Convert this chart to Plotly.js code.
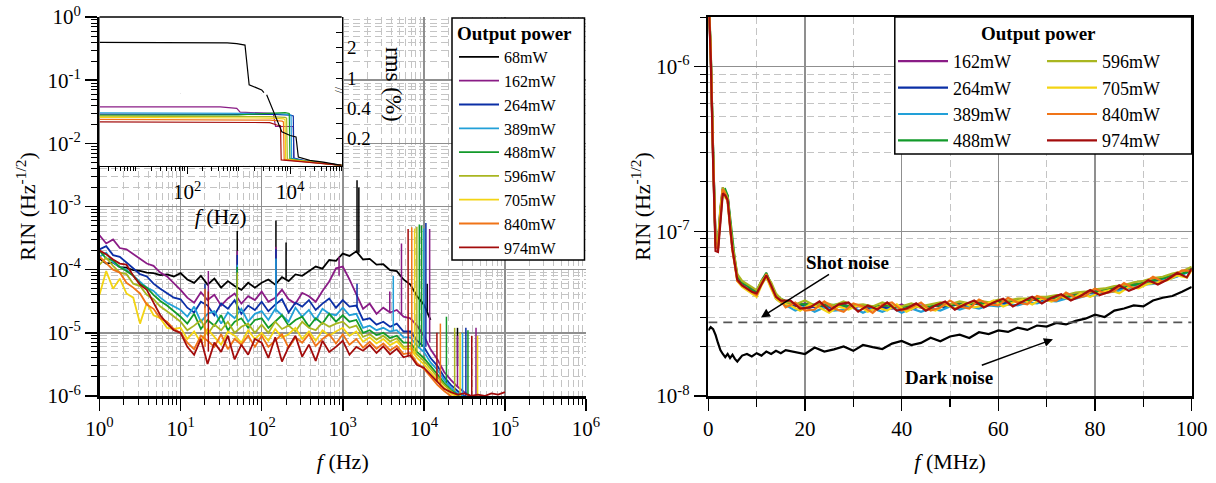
<!DOCTYPE html>
<html><head><meta charset="utf-8">
<script src="https://cdn.plot.ly/plotly-3.0.1.min.js"></script>
<style>html,body{margin:0;padding:0;background:#fff}</style>
</head><body><div id="chart" style="width:1216px;height:483px"></div>
<script>
// ---------------- DATA ----------------
const powerNames = ['68mW','162mW','264mW','389mW','488mW','596mW','705mW','840mW','974mW'];

// Left panel: RIN vs frequency (Hz)
const freqLeft = [1,1.21,1.47,1.78,2.15,2.61,3.16,3.83,4.64,5.62,6.81,8.25,
 10,12.1,14.7,17.8,21.5,26.1,31.6,38.3,46.4,56.2,68.1,82.5,
 100,121,147,178,215,261,316,383,464,562,681,825,
 1000,1210,1470,1780,2150,2610,3160,3830,4640,5620,6810,8250,
 1e4,1.21e4,1.47e4,1.78e4,2.15e4,2.61e4,3.16e4,3.83e4,4.64e4,5.62e4,6.81e4,8.25e4,1e5];

const rin68 = [150e-6,125e-6,130e-6,110e-6,108e-6,98e-6,96e-6,90e-6,88e-6,82e-6,84e-6,78e-6,
 88e-6,70e-6,62e-6,80e-6,58e-6,72e-6,52e-6,66e-6,55e-6,48e-6,62e-6,52e-6,
 62e-6,70e-6,58e-6,76e-6,66e-6,84e-6,80e-6,96e-6,112e-6,104e-6,142e-6,138e-6,
 180e-6,165e-6,195e-6,145e-6,148e-6,120e-6,122e-6,98e-6,95e-6,70e-6,58e-6,38e-6,
 28e-6,16e-6];
const rin162 = [350e-6,260e-6,300e-6,220e-6,210e-6,175e-6,150e-6,125e-6,115e-6,90e-6,78e-6,62e-6,
 48e-6,36e-6,30e-6,44e-6,33e-6,40e-6,27e-6,35e-6,42e-6,29e-6,38e-6,33e-6,
 45e-6,31e-6,36e-6,48e-6,34e-6,29e-6,43e-6,38e-6,31e-6,46e-6,65e-6,105e-6,
 112e-6,70e-6,40e-6,24e-6,29e-6,20e-6,25e-6,21e-6,23e-6,18e-6,17e-6,13e-6,
 9e-6,5.5e-6,3.8e-6,2.4e-6,1.8e-6,1.4e-6,1.15e-6,1.0e-6,0.9e-6];
const rin264 = [210e-6,235e-6,170e-6,160e-6,130e-6,105e-6,85e-6,78e-6,60e-6,50e-6,42e-6,36e-6,
 34e-6,25e-6,21e-6,31e-6,27e-6,19e-6,29e-6,24e-6,33e-6,20e-6,27e-6,23e-6,
 31e-6,22e-6,28e-6,34e-6,21e-6,30e-6,26e-6,33e-6,23e-6,29e-6,35e-6,25e-6,
 33e-6,26e-6,27e-6,16e-6,17e-6,13.5e-6,15e-6,12.5e-6,14e-6,10.5e-6,10.5e-6,7.5e-6,
 6e-6,4e-6,3e-6,2e-6,1.5e-6,1.2e-6,1.0e-6,0.9e-6,0.8e-6];
const rin389 = [160e-6,185e-6,130e-6,110e-6,100e-6,80e-6,65e-6,52e-6,46e-6,36e-6,30e-6,26e-6,
 23e-6,18e-6,26e-6,15e-6,20e-6,22e-6,14e-6,21e-6,17e-6,24e-6,15e-6,20e-6,
 22e-6,16e-6,24e-6,19e-6,15e-6,25e-6,18e-6,23e-6,16e-6,24e-6,20e-6,19e-6,
 25e-6,19e-6,20e-6,12e-6,13e-6,11e-6,12e-6,10.5e-6,11e-6,8.5e-6,8.5e-6,6.2e-6,
 5e-6,3.4e-6,2.6e-6,1.8e-6,1.35e-6,1.1e-6,0.95e-6,0.85e-6,0.8e-6];
const rin488 = [200e-6,150e-6,140e-6,110e-6,95e-6,80e-6,60e-6,52e-6,40e-6,32e-6,27e-6,22e-6,
 18e-6,14e-6,20e-6,11.5e-6,16e-6,13e-6,19e-6,11e-6,15e-6,17e-6,12e-6,16e-6,
 17e-6,12e-6,15e-6,19e-6,13e-6,16e-6,18e-6,12.5e-6,17e-6,14e-6,20e-6,15e-6,
 19e-6,15e-6,16e-6,10e-6,11e-6,9.2e-6,10e-6,8.3e-6,9e-6,7e-6,7e-6,5e-6,
 4e-6,3e-6,2.2e-6,1.6e-6,1.25e-6,1.05e-6,0.9e-6,0.82e-6,0.78e-6];
const rin596 = [120e-6,155e-6,115e-6,90e-6,85e-6,60e-6,55e-6,40e-6,34e-6,26e-6,22e-6,18e-6,
 15e-6,11e-6,13e-6,16e-6,9.5e-6,13.5e-6,11e-6,15e-6,10e-6,12.5e-6,14e-6,10e-6,
 13.5e-6,10e-6,15e-6,11.5e-6,13e-6,10.5e-6,15e-6,12e-6,11e-6,14.5e-6,12.5e-6,14e-6,
 15e-6,12e-6,13e-6,8.6e-6,9.6e-6,7.8e-6,9e-6,7.3e-6,8.2e-6,6e-6,6.2e-6,4.5e-6,
 3.6e-6,2.7e-6,2e-6,1.5e-6,1.2e-6,1.0e-6,0.88e-6,0.8e-6,0.75e-6];
const rin705 = [40e-6,95e-6,50e-6,72e-6,42e-6,36e-6,14e-6,30e-6,19e-6,17e-6,12e-6,11.5e-6,
 12e-6,8e-6,10.5e-6,7e-6,11.5e-6,8.5e-6,6.5e-6,10.5e-6,9e-6,7e-6,11e-6,8e-6,
 10e-6,7.5e-6,11.5e-6,8.5e-6,9.5e-6,12e-6,8e-6,10.5e-6,7.5e-6,11e-6,9e-6,10.5e-6,
 12e-6,9e-6,10.5e-6,7.2e-6,8.5e-6,6.8e-6,8e-6,6.4e-6,7.3e-6,5.6e-6,5.6e-6,4e-6,
 3.2e-6,2.4e-6,1.8e-6,1.35e-6,1.1e-6,0.95e-6,0.85e-6,0.78e-6,0.72e-6];
const rin840 = [160e-6,125e-6,100e-6,90e-6,62e-6,52e-6,42e-6,28e-6,24e-6,17e-6,15e-6,11.5e-6,
 10e-6,7e-6,5.5e-6,9e-6,7.5e-6,6e-6,9.5e-6,5.5e-6,8e-6,6.5e-6,9e-6,6e-6,
 9e-6,6e-6,7.5e-6,9.5e-6,5.8e-6,8.5e-6,7e-6,9.5e-6,6.2e-6,8e-6,9.5e-6,6.8e-6,
 9.5e-6,6.5e-6,8e-6,5.8e-6,7.2e-6,5.6e-6,6.8e-6,5.3e-6,6.2e-6,4.6e-6,4.8e-6,3.3e-6,
 2.7e-6,2e-6,1.5e-6,1.2e-6,1.0e-6,0.9e-6,0.8e-6,0.75e-6,0.7e-6];
const rin974 = [200e-6,175e-6,145e-6,125e-6,120e-6,80e-6,58e-6,48e-6,30e-6,19e-6,14e-6,11e-6,
 10e-6,6e-6,4.5e-6,8e-6,3.2e-6,7e-6,5e-6,9e-6,3.8e-6,6.5e-6,4.5e-6,8e-6,
 7e-6,4e-6,8.5e-6,3.5e-6,6e-6,9e-6,4.2e-6,6.5e-6,3.6e-6,7.5e-6,5e-6,6e-6,
 7.5e-6,4.5e-6,6e-6,5.2e-6,6.4e-6,4.8e-6,6.1e-6,4.6e-6,5.6e-6,4.1e-6,4.4e-6,3.1e-6,
 2.8e-6,2.2e-6,1.7e-6,1.3e-6,1.15e-6,1.05e-6,1.1e-6,1.0e-6,1.05e-6,1.0e-6,1.1e-6,1.05e-6,
 1.15e-6];

// Narrow spectral lines: [frequency, RIN at foot, RIN at peak]
const spikes68  = [[50,55e-6,410e-6],[150,62e-6,600e-6],[200,72e-6,270e-6],[1500,190e-6,2600e-6],[1580,185e-6,2000e-6],[1.1e4,22e-6,60e-6],[2.6e4,3e-6,12e-6]];
const spikes162 = [[22,33e-6,95e-6],[50,37e-6,200e-6],[150,40e-6,230e-6],[900,80e-6,160e-6],[3800,21e-6,45e-6],[5300,19e-6,260e-6],[1.18e4,7e-6,440e-6],[2.6e4,1.4e-6,9e-6],[4.4e4,0.9e-6,12e-6]];
const spikes264 = [[20,25e-6,60e-6],[50,26e-6,170e-6],[150,28e-6,210e-6],[1500,25e-6,60e-6],[1.06e4,6e-6,550e-6],[3.3e4,1e-6,12e-6]];
const spikes389 = [[50,20e-6,120e-6],[150,21e-6,150e-6],[4200,11e-6,80e-6],[1.0e4,5e-6,450e-6],[3.0e4,1e-6,10e-6]];
const spikes488 = [[50,16e-6,110e-6],[8800,6e-6,520e-6],[9400,6e-6,500e-6],[1.9e4,1.6e-6,18e-6],[3.5e4,0.9e-6,11e-6]];
const spikes596 = [[50,13e-6,90e-6],[8200,5e-6,480e-6],[2.4e4,1.2e-6,12e-6]];
const spikes705 = [[7700,4.5e-6,450e-6],[2.8e4,1e-6,10e-6],[4.6e4,0.8e-6,9e-6]];
const spikes840 = [[20,6e-6,50e-6],[7100,4.5e-6,470e-6],[1.6e4,1.4e-6,14e-6]];
const spikes974 = [[22,5e-6,45e-6],[6400,4.3e-6,440e-6],[1.45e4,1.7e-6,10e-6],[3.9e4,1.0e-6,9e-6]];

// Inset: integrated rms (%) vs frequency (Hz)
const rms68UpperF = [2,100,600,920,1330,1600,2800,3100];
const rms68Upper  = [2.17,2.17,2.15,2.13,2.08,0.78,0.61,0.52];
const rms68LowerF = [3500,5900,6900,1e4,1.3e4,1.44e4,2.4e4,4.4e4,1e5];
const rms68Lower  = [0.49,0.30,0.244,0.22,0.21,0.078,0.055,0.044,0.022];
const rms162F = [2,440,920,1070,4700,5200,11500,11800,20000,50000,100000];
const rms162  = [0.41,0.41,0.40,0.375,0.367,0.28,0.28,0.065,0.05,0.035,0.022];
const rms264F = [2,1000,5000,10000,11500,11800,20000,50000,100000];
const rms264  = [0.362,0.362,0.36,0.355,0.35,0.07,0.052,0.035,0.022];
const rms389F = [2,1000,5000,9000,10400,10700,20000,50000,100000];
const rms389  = [0.371,0.37,0.366,0.36,0.355,0.068,0.05,0.034,0.022];
const rms488F = [2,1000,3000,8000,9600,9900,20000,50000,100000];
const rms488  = [0.355,0.357,0.365,0.372,0.366,0.066,0.05,0.034,0.022];
const rms596F = [2,1000,4000,8000,8550,8800,20000,50000,100000];
const rms596  = [0.349,0.348,0.345,0.34,0.335,0.064,0.049,0.033,0.022];
const rms705F = [2,1000,4000,7500,7950,8200,20000,50000,100000];
const rms705  = [0.34,0.339,0.336,0.33,0.325,0.062,0.048,0.033,0.022];
const rms840F = [2,1000,4000,7000,7400,7650,20000,50000,100000];
const rms840  = [0.327,0.326,0.322,0.315,0.31,0.06,0.047,0.032,0.022];
const rms974F = [2,1000,4000,5500,6500,6700,20000,50000,100000];
const rms974  = [0.311,0.31,0.306,0.29,0.285,0.058,0.046,0.032,0.022];

// Right panel: RIN vs frequency (MHz); two sampling grids (even / odd MHz above 15 MHz)
const freqRightA = [0,0.5,1,1.5,2,2.5,3,3.5,4,4.5,5,5.5,6,7,8,9,10,11,12,13,14,15,
 16,18,20,22,24,26,28,30,32,34,36,38,40,42,44,46,48,50,52,54,56,58,60,
 62,64,66,68,70,72,74,76,78,80,82,84,86,88,90,92,94,96,98,100];
const freqRightB = [0,0.5,1,1.5,2,2.5,3,3.5,4,4.5,5,5.5,6,7,8,9,10,11,12,13,14,15,
 17,19,21,23,25,27,29,31,33,35,37,39,41,43,45,47,49,51,53,55,57,59,61,
 63,65,67,69,71,73,75,77,79,81,83,85,87,89,91,93,95,97,99,100];
const rinR162 = [300e-8,125e-8,30e-8,8.8e-8,8.3e-8,13.5e-8,18.5e-8,17e-8,16.5e-8,11.5e-8,8.2e-8,6.6e-8,5.3e-8,4.9e-8,4.7e-8,4.5e-8,4.3e-8,5.0e-8,5.5e-8,4.8e-8,4.1e-8,3.8e-8,
 3.7e-8,3.5e-8,3.65e-8,3.45e-8,3.6e-8,3.4e-8,3.6e-8,3.45e-8,3.55e-8,3.35e-8,3.5e-8,3.4e-8,3.6e-8,3.35e-8,3.55e-8,3.45e-8,3.65e-8,3.5e-8,3.65e-8,3.55e-8,3.7e-8,3.6e-8,3.8e-8,
 3.65e-8,3.85e-8,3.75e-8,3.95e-8,3.8e-8,4.05e-8,3.95e-8,4.2e-8,4.1e-8,4.4e-8,4.3e-8,4.6e-8,4.5e-8,4.85e-8,4.7e-8,5.1e-8,5.0e-8,5.5e-8,5.45e-8,6.0e-8];
const rinR264 = [290e-8,118e-8,29e-8,8.4e-8,8.0e-8,13e-8,18e-8,17.5e-8,16e-8,11e-8,8e-8,6.4e-8,5.2e-8,4.8e-8,4.5e-8,4.3e-8,4.2e-8,4.9e-8,5.4e-8,4.6e-8,4.0e-8,3.7e-8,
 3.5e-8,3.6e-8,3.45e-8,3.55e-8,3.4e-8,3.55e-8,3.4e-8,3.55e-8,3.35e-8,3.5e-8,3.4e-8,3.5e-8,3.35e-8,3.5e-8,3.4e-8,3.55e-8,3.45e-8,3.6e-8,3.5e-8,3.65e-8,3.55e-8,3.7e-8,3.65e-8,
 3.75e-8,3.7e-8,3.85e-8,3.8e-8,3.95e-8,3.9e-8,4.05e-8,4.05e-8,4.25e-8,4.25e-8,4.45e-8,4.45e-8,4.65e-8,4.7e-8,4.95e-8,5.0e-8,5.25e-8,5.35e-8,5.65e-8,5.85e-8];
const rinR389 = [310e-8,122e-8,27e-8,8.2e-8,8.1e-8,12.5e-8,17.5e-8,16.5e-8,15.5e-8,11e-8,7.8e-8,6.4e-8,5.1e-8,4.7e-8,4.5e-8,4.4e-8,4.1e-8,4.8e-8,5.3e-8,4.6e-8,3.9e-8,3.7e-8,
 3.55e-8,3.3e-8,3.5e-8,3.25e-8,3.45e-8,3.3e-8,3.35e-8,3.45e-8,3.2e-8,3.4e-8,3.25e-8,3.45e-8,3.2e-8,3.4e-8,3.25e-8,3.4e-8,3.3e-8,3.5e-8,3.35e-8,3.5e-8,3.4e-8,3.55e-8,3.5e-8,
 3.6e-8,3.55e-8,3.7e-8,3.65e-8,3.8e-8,3.75e-8,3.9e-8,3.9e-8,4.05e-8,4.1e-8,4.25e-8,4.3e-8,4.45e-8,4.6e-8,4.75e-8,4.8e-8,5.05e-8,5.2e-8,5.45e-8,5.8e-8];
const rinR488 = [305e-8,125e-8,31e-8,8.6e-8,8.4e-8,13.5e-8,17.5e-8,18e-8,16.5e-8,12e-8,8.4e-8,6.7e-8,5.4e-8,4.9e-8,4.7e-8,4.4e-8,4.3e-8,5.0e-8,5.6e-8,4.8e-8,4.1e-8,3.9e-8,
 3.65e-8,3.6e-8,3.6e-8,3.55e-8,3.55e-8,3.6e-8,3.5e-8,3.55e-8,3.5e-8,3.5e-8,3.55e-8,3.45e-8,3.5e-8,3.5e-8,3.45e-8,3.55e-8,3.55e-8,3.6e-8,3.6e-8,3.65e-8,3.65e-8,3.7e-8,3.75e-8,
 3.8e-8,3.8e-8,3.85e-8,3.9e-8,3.95e-8,4.0e-8,4.05e-8,4.15e-8,4.25e-8,4.35e-8,4.45e-8,4.55e-8,4.65e-8,4.8e-8,4.95e-8,5.1e-8,5.25e-8,5.45e-8,5.65e-8,6.0e-8];
const rinR596 = [320e-8,130e-8,30e-8,8.9e-8,8.6e-8,14e-8,18.5e-8,17e-8,16e-8,11.5e-8,8.3e-8,6.8e-8,5.5e-8,5.0e-8,4.8e-8,4.6e-8,4.4e-8,5.0e-8,5.4e-8,4.9e-8,4.2e-8,3.9e-8,
 3.75e-8,3.6e-8,3.8e-8,3.55e-8,3.7e-8,3.55e-8,3.75e-8,3.55e-8,3.6e-8,3.5e-8,3.7e-8,3.55e-8,3.5e-8,3.65e-8,3.5e-8,3.6e-8,3.7e-8,3.6e-8,3.75e-8,3.65e-8,3.8e-8,3.7e-8,3.85e-8,
 3.8e-8,3.9e-8,3.9e-8,4.0e-8,4.0e-8,4.1e-8,4.1e-8,4.25e-8,4.3e-8,4.45e-8,4.5e-8,4.65e-8,4.7e-8,4.9e-8,5.0e-8,5.2e-8,5.3e-8,5.55e-8,5.7e-8,6.1e-8];
const rinR705 = [300e-8,120e-8,28e-8,8.3e-8,7.8e-8,13e-8,18e-8,16e-8,15.5e-8,10.5e-8,7.8e-8,6.3e-8,5.0e-8,4.6e-8,4.4e-8,4.2e-8,4.0e-8,4.7e-8,5.3e-8,4.5e-8,3.9e-8,3.7e-8,
 3.55e-8,3.3e-8,3.6e-8,3.45e-8,3.2e-8,3.5e-8,3.35e-8,3.55e-8,3.25e-8,3.45e-8,3.3e-8,3.6e-8,3.25e-8,3.5e-8,3.4e-8,3.3e-8,3.6e-8,3.4e-8,3.65e-8,3.45e-8,3.55e-8,3.8e-8,3.5e-8,
 3.7e-8,3.85e-8,3.6e-8,3.9e-8,3.75e-8,4.0e-8,3.85e-8,4.2e-8,4.0e-8,4.25e-8,4.4e-8,4.2e-8,4.6e-8,4.5e-8,4.8e-8,4.9e-8,5.05e-8,5.4e-8,5.25e-8,5.8e-8];
const rinR840 = [295e-8,118e-8,27e-8,8.0e-8,7.9e-8,12.5e-8,18e-8,17e-8,15e-8,10.5e-8,7.6e-8,6.2e-8,5.0e-8,4.7e-8,4.5e-8,4.3e-8,4.1e-8,4.8e-8,5.5e-8,4.6e-8,4.0e-8,3.8e-8,
 3.45e-8,3.7e-8,3.3e-8,3.35e-8,3.75e-8,3.4e-8,3.25e-8,3.65e-8,3.5e-8,3.2e-8,3.6e-8,3.7e-8,3.3e-8,3.45e-8,3.7e-8,3.3e-8,3.45e-8,3.8e-8,3.5e-8,3.4e-8,3.85e-8,3.6e-8,3.55e-8,
 3.95e-8,3.7e-8,3.6e-8,4.05e-8,3.85e-8,3.8e-8,4.25e-8,3.95e-8,4.05e-8,4.5e-8,4.2e-8,4.35e-8,4.85e-8,4.5e-8,4.8e-8,5.3e-8,4.95e-8,5.3e-8,5.8e-8,5.75e-8];
const rinR974 = [290e-8,115e-8,26e-8,7.6e-8,7.5e-8,12e-8,17e-8,16.5e-8,15.5e-8,10.8e-8,7.8e-8,6.3e-8,5.1e-8,4.7e-8,4.5e-8,4.3e-8,4.2e-8,4.8e-8,5.4e-8,4.7e-8,4.0e-8,3.8e-8,
 3.8e-8,3.4e-8,3.45e-8,3.75e-8,3.3e-8,3.6e-8,3.7e-8,3.25e-8,3.55e-8,3.35e-8,3.7e-8,3.3e-8,3.4e-8,3.65e-8,3.3e-8,3.55e-8,3.75e-8,3.35e-8,3.6e-8,3.8e-8,3.45e-8,3.7e-8,3.9e-8,
 3.5e-8,3.75e-8,4.0e-8,3.65e-8,3.95e-8,4.15e-8,3.8e-8,4.05e-8,4.4e-8,4.1e-8,4.3e-8,4.7e-8,4.35e-8,4.6e-8,5.05e-8,4.75e-8,5.1e-8,5.6e-8,5.25e-8,5.95e-8];
const darkNoise = [2.5e-8,2.62e-8,2.55e-8,2.35e-8,2.1e-8,1.9e-8,1.8e-8,1.72e-8,1.8e-8,1.7e-8,1.78e-8,1.68e-8,1.62e-8,1.76e-8,1.8e-8,1.74e-8,1.82e-8,1.76e-8,1.86e-8,1.8e-8,1.88e-8,1.82e-8,
 1.9e-8,1.84e-8,1.8e-8,1.97e-8,1.86e-8,1.92e-8,2.0e-8,1.88e-8,2.04e-8,1.98e-8,1.93e-8,2.08e-8,
 2.16e-8,2.04e-8,2.1e-8,2.26e-8,2.15e-8,2.3e-8,2.36e-8,2.25e-8,2.44e-8,2.38e-8,2.5e-8,2.45e-8,2.6e-8,2.52e-8,2.68e-8,2.64e-8,
 2.78e-8,2.72e-8,2.86e-8,2.95e-8,3.12e-8,3.02e-8,3.3e-8,3.4e-8,3.55e-8,3.5e-8,3.8e-8,3.95e-8,4.05e-8,4.3e-8,4.6e-8];
const shotNoiseLevel = 2.8e-8;
const shotNoiseSpan = [0, 100];

// ---------------- STYLE ----------------
const FONT = 'Liberation Serif, Times New Roman, serif';
const COLORS = {'68mW':'#000000','162mW':'#8a1c86','264mW':'#0b2fa6','389mW':'#22a0d8','488mW':'#129a2a',
 '596mW':'#a9b620','705mW':'#f3d414','840mW':'#f07418','974mW':'#a30c0c'};
const W = 1216, H = 483;
const px = v => v / W, py = v => 1 - v / H;

const traces = [];
const leftSets = [
 ['68mW', rin68, spikes68], ['162mW', rin162, spikes162], ['264mW', rin264, spikes264],
 ['389mW', rin389, spikes389], ['488mW', rin488, spikes488], ['596mW', rin596, spikes596],
 ['705mW', rin705, spikes705], ['840mW', rin840, spikes840], ['974mW', rin974, spikes974]];
leftSets.forEach(([name, vals, sp]) => {
  traces.push({type:'scatter', mode:'lines', name: name, x: freqLeft.slice(0, vals.length), y: vals,
    line:{color: COLORS[name], width: 1.8}, xaxis:'x', yaxis:'y', legend:'legend'});
  traces.push({type:'scatter', mode:'lines', showlegend:false,
    x: sp.flatMap(s => [s[0], s[0], null]), y: sp.flatMap(s => [s[1], s[2], null]),
    line:{color: COLORS[name], width: 1.5}, xaxis:'x', yaxis:'y'});
});

// Inset
const insetSets = [['162mW', rms162F, rms162], ['264mW', rms264F, rms264], ['389mW', rms389F, rms389],
 ['488mW', rms488F, rms488], ['596mW', rms596F, rms596], ['705mW', rms705F, rms705],
 ['840mW', rms840F, rms840], ['974mW', rms974F, rms974]];
insetSets.forEach(([name, f, v]) => {
  traces.push({type:'scatter', mode:'lines', showlegend:false, x:f, y:v,
    line:{color: COLORS[name], width:1.2}, xaxis:'x3', yaxis:'y4'});
});
traces.push({type:'scatter', mode:'lines', showlegend:false, x: rms68UpperF, y: rms68Upper,
  line:{color:'#000', width:1.2}, xaxis:'x3', yaxis:'y3'});
traces.push({type:'scatter', mode:'lines', showlegend:false, x: rms68LowerF, y: rms68Lower,
  line:{color:'#000', width:1.2}, xaxis:'x3', yaxis:'y4'});

// Right panel
const rightSets = [['162mW', rinR162, freqRightA, 'legend2'], ['264mW', rinR264, freqRightB, 'legend2'],
 ['389mW', rinR389, freqRightA, 'legend2'], ['488mW', rinR488, freqRightB, 'legend2'],
 ['596mW', rinR596, freqRightA, 'legend3'], ['705mW', rinR705, freqRightB, 'legend3'],
 ['840mW', rinR840, freqRightA, 'legend3'], ['974mW', rinR974, freqRightB, 'legend3']];
rightSets.forEach(([name, vals, fx, lg]) => {
  traces.push({type:'scatter', mode:'lines', name: name, x: fx, y: vals,
    line:{color: COLORS[name], width: 2.2}, xaxis:'x2', yaxis:'y2', legend: lg});
});
traces.push({type:'scatter', mode:'lines', showlegend:false, x: freqRightA, y: darkNoise,
  line:{color:'#000', width:2.2}, xaxis:'x2', yaxis:'y2'});
traces.push({type:'scatter', mode:'lines', showlegend:false, x: shotNoiseSpan, y: [shotNoiseLevel, shotNoiseLevel],
  line:{color:'#555', width:1.8, dash:'9px,6px'}, xaxis:'x2', yaxis:'y2'});

// Tick helpers (axis configuration only)
function majorLog(lo, hi){ const v=[]; for(let e=lo;e<=hi;e++) v.push(Math.pow(10,e)); return v; }
function majorLogText(lo, hi){ const t=[]; for(let e=lo;e<=hi;e++) t.push('10<sup>'+e+'</sup>'); return t; }
function minorLog(lo, hi){ const v=[]; for(let e=lo;e<hi;e++) for(let d=2;d<=9;d++) v.push(d*Math.pow(10,e)); return v; }

const GRID = '#8f8f8f', MINORGRID = '#c4c4c4';
const tickFont = {family: FONT, size: 21, color:'#000'};
const titleFont = {family: FONT, size: 22, color:'#000'};
const baseAxis = {showline:true, linecolor:'#000', linewidth:2.5, ticks:'outside', ticklen:12, tickwidth:1.5,
  tickcolor:'#000', showgrid:true, gridcolor:GRID, gridwidth:1.5, zeroline:false, tickfont: tickFont};
const minorLogAxis = (lo, hi) => ({tickmode:'array', tickvals: minorLog(lo, hi), ticks:'outside', ticklen:6,
  tickwidth:1, tickcolor:'#000', showgrid:true, gridcolor:MINORGRID, gridwidth:1, griddash:'7px,4px'});
const legendFont = {family: FONT, size: 16, color:'#000'};
const legendFontR = {family: FONT, size: 18, color:'#000'};
const paperNote = (x, y, text, size, angle) => ({xref:'paper', yref:'paper', x: px(x), y: py(y),
  xanchor:'center', yanchor:'middle', text: text, showarrow:false, textangle: angle || 0,
  font:{family: FONT, size: size, color:'#000'}});

const layout = {
  width: W, height: H, margin:{l:0, r:0, t:0, b:0},
  paper_bgcolor:'#fff', plot_bgcolor:'#fff', hovermode:false,
  font:{family: FONT, color:'#000'},
  showlegend:true,
  xaxis: Object.assign({}, baseAxis, {domain:[px(99.5), px(586)], type:'log', range:[0, 6], anchor:'y',
    tickmode:'array', tickvals: majorLog(0, 6), ticktext: majorLogText(0, 6), minor: minorLogAxis(0, 6),
    title:{text:'<i>f</i> (Hz)', font: titleFont, standoff: 14}}),
  yaxis: Object.assign({}, baseAxis, {domain:[py(396), py(17)], type:'log', range:[-6, 0], anchor:'x',
    tickmode:'array', tickvals: majorLog(-6, 0), ticktext: majorLogText(-6, 0), minor: minorLogAxis(-6, 0),
    title:{text:'RIN (Hz<sup>-1/2</sup>)', font: titleFont, standoff: 6}}),
  xaxis2: Object.assign({}, baseAxis, {domain:[px(708.3), px(1191.7)], range:[0, 100], anchor:'y2', mirror:true,
    tickmode:'linear', tick0:0, dtick:20,
    minor:{dtick:10, tick0:0, ticks:'outside', ticklen:8, tickwidth:1.5, tickcolor:'#000', showgrid:true,
      gridcolor:MINORGRID, gridwidth:1, griddash:'7px,4px'},
    title:{text:'<i>f</i> (MHz)', font: titleFont, standoff: 14}}),
  yaxis2: Object.assign({}, baseAxis, {domain:[py(396), py(17)], type:'log', range:[-8, -5.698], anchor:'x2', mirror:true,
    tickmode:'array', tickvals: majorLog(-8, -6), ticktext: majorLogText(-8, -6), minor: minorLogAxis(-8, -5),
    title:{text:'RIN (Hz<sup>-1/2</sup>)', font: titleFont, standoff: 0}}),
  xaxis3: {domain:[px(99.5), px(341.7)], type:'log', range:[0.301, 5], anchor:'y4', showline:true, linecolor:'#000',
    linewidth:1.5, ticks:'outside', ticklen:7, tickwidth:1, tickcolor:'#000', showgrid:false, zeroline:false,
    tickmode:'array', tickvals:[1e2, 1e4], ticktext:['10<sup>2</sup>','10<sup>4</sup>'], tickfont: tickFont,
    minor:{tickmode:'array', tickvals: minorLog(0, 5).filter(v => v > 2).concat([10, 1e3, 1e5]), ticks:'outside', ticklen:4, tickwidth:1, tickcolor:'#000', showgrid:false},
    title:{text:'<i>f</i> (Hz)', font: titleFont, standoff: 2}},
  yaxis3: {domain:[py(93.3), py(17)], range:[0.5, 3.0], anchor:'x3', side:'right', showline:true, linecolor:'#000',
    linewidth:1.5, ticks:'inside', ticklen:6, tickwidth:1, tickcolor:'#000', showgrid:false, zeroline:false,
    tickmode:'array', tickvals:[1, 2], ticktext:['1','2'], tickfont:{family: FONT, size: 19, color:'#000'},
    minor:{tickmode:'array', tickvals:[1.5, 2.5], ticks:'inside', ticklen:6, tickwidth:1, tickcolor:'#000', showgrid:false}},
  yaxis4: {domain:[py(165.7), py(93.3)], range:[0.02, 0.5], anchor:'x3', side:'right', showline:true, linecolor:'#000',
    linewidth:1.5, ticks:'inside', ticklen:6, tickwidth:1, tickcolor:'#000', showgrid:false, zeroline:false,
    tickmode:'array', tickvals:[0.2, 0.4], ticktext:['0.2','0.4'], tickfont:{family: FONT, size: 19, color:'#000'},
    minor:{tickmode:'array', tickvals:[0.1, 0.3], ticks:'inside', ticklen:6, tickwidth:1, tickcolor:'#000', showgrid:false}},
  legend: {x: px(454), xanchor:'left', y: py(40), yanchor:'top', bgcolor:'rgba(0,0,0,0)', borderwidth:0,
    font: legendFont, itemwidth: 40, tracegroupgap: 0},
  legend2: {x: px(893), xanchor:'left', y: py(43), yanchor:'top', bgcolor:'rgba(0,0,0,0)', borderwidth:0,
    font: legendFontR, itemwidth: 50, tracegroupgap: 0},
  legend3: {x: px(1042), xanchor:'left', y: py(43), yanchor:'top', bgcolor:'rgba(0,0,0,0)', borderwidth:0,
    font: legendFontR, itemwidth: 50, tracegroupgap: 0},
  shapes: [
    {type:'line', xref:'paper', yref:'paper', x0: px(99.5), x1: px(341.7), y0: py(17), y1: py(17),
      line:{color:'#000', width:1.5}, layer:'above'},
    {type:'rect', xref:'paper', yref:'paper', x0: px(452), x1: px(584.5), y0: py(260), y1: py(18),
      line:{color:'#000', width:1.5}, fillcolor:'#fff', layer:'above'},
    {type:'rect', xref:'paper', yref:'paper', x0: px(894.8), x1: px(1191.7), y0: py(154), y1: py(17),
      line:{color:'#000', width:1.5}, fillcolor:'#fff', layer:'above'}
  ],
  annotations: [
    paperNote(514, 33, '<b>Output power</b>', 19),
    paperNote(1038, 33, '<b>Output power</b>', 19),
    paperNote(394, 84, 'rms (%)', 23, 90),
    paperNote(339, 90, '//', 12, 90),
    {xref:'x2', yref:'y2', x: 10.9, y: Math.log10(3.0e-8), text:'<b>Shot noise</b>', showarrow:true,
      ax: 87, ay: -55, arrowhead: 2, arrowsize: 1.2, arrowwidth: 1.5, arrowcolor:'#000', standoff: 0,
      font:{family: FONT, size: 19, color:'#000'}},
    {xref:'x2', yref:'y2', x: 71.3, y: Math.log10(2.21e-8), text:'<b>Dark noise</b>', showarrow:true,
      ax: -104, ay: 38, arrowhead: 2, arrowsize: 1.2, arrowwidth: 1.5, arrowcolor:'#000', standoff: 0,
      font:{family: FONT, size: 19, color:'#000'}}
  ]
};

Plotly.newPlot('chart', traces, layout, {displayModeBar:false, staticPlot:true});
</script></body></html>
